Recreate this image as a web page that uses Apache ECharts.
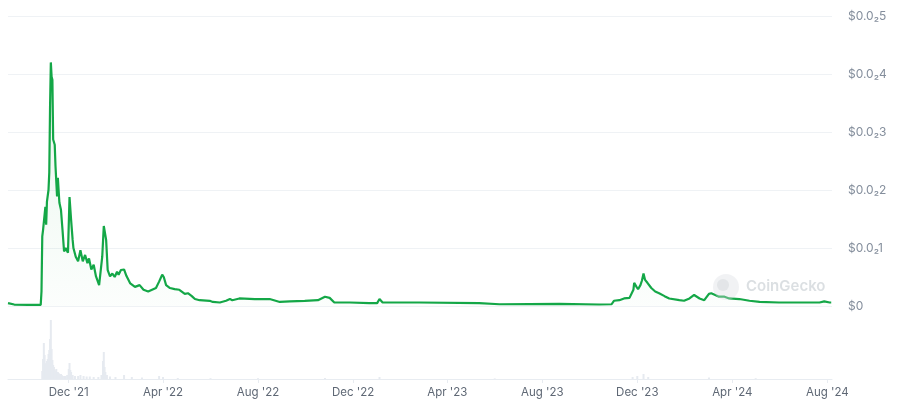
<!DOCTYPE html>
<html><head><meta charset="utf-8">
<script src="https://cdn.jsdelivr.net/npm/echarts@6/dist/echarts.min.js"></script>
<style>html,body{margin:0;padding:0;background:#fff}#c{width:900px;height:400px}</style>
</head><body><div id="c"></div>
<script>
// price in thousandths of a dollar ($0.0₂1 = 1)
const priceDates = [
'2021-09-14','2021-09-22','2021-10-10','2021-10-26','2021-10-27','2021-10-28','2021-10-29','2021-10-31',
'2021-11-01','2021-11-02','2021-11-03','2021-11-04','2021-11-05','2021-11-06','2021-11-07','2021-11-08',
'2021-11-09','2021-11-10','2021-11-11','2021-11-13','2021-11-14','2021-11-16','2021-11-17','2021-11-19',
'2021-11-21','2021-11-23','2021-11-25','2021-11-27','2021-11-30','2021-12-02','2021-12-04','2021-12-06',
'2021-12-07','2021-12-10','2021-12-13','2021-12-16','2021-12-19','2021-12-22','2021-12-25','2021-12-27',
'2021-12-30','2022-01-02','2022-01-05','2022-01-09','2022-01-11','2022-01-13','2022-01-15','2022-01-17',
'2022-01-18','2022-01-20','2022-01-23','2022-01-26','2022-01-29','2022-02-01','2022-02-03','2022-02-06',
'2022-02-10','2022-02-13','2022-02-18','2022-02-24','2022-03-02','2022-03-07','2022-03-13','2022-03-18',
'2022-03-23','2022-03-27','2022-03-31','2022-04-02','2022-04-05','2022-04-10','2022-04-16','2022-04-22',
'2022-04-29','2022-05-03','2022-05-08','2022-05-12','2022-05-18','2022-05-31','2022-06-04','2022-06-13',
'2022-06-21','2022-06-26','2022-06-29','2022-07-08','2022-07-28','2022-08-16','2022-08-29','2022-09-11',
'2022-09-30','2022-10-17','2022-10-26','2022-11-01','2022-11-07','2022-11-27','2022-12-22','2023-01-01',
'2023-01-04','2023-01-08','2023-01-17','2023-02-24','2023-05-12','2023-06-07','2023-08-23','2023-10-13',
'2023-10-29','2023-11-01','2023-11-08','2023-11-14','2023-11-21','2023-11-23','2023-11-26','2023-11-27',
'2023-11-30','2023-12-02','2023-12-05','2023-12-07','2023-12-09','2023-12-11','2023-12-14','2023-12-19',
'2023-12-24','2023-12-29','2024-01-05','2024-01-11','2024-01-24','2024-01-30','2024-02-06','2024-02-12',
'2024-02-19','2024-02-25','2024-03-02','2024-03-05','2024-03-10','2024-03-15','2024-03-22','2024-03-28',
'2024-04-10','2024-04-23','2024-05-06','2024-05-31','2024-06-26','2024-07-22','2024-07-28','2024-08-04',
'2024-08-06'
];
const priceMilli = [
0.05,0.025,0.02,0.02,0.25,1.20,1.31,1.28,
1.71,1.40,1.80,1.78,2.00,2.30,3.44,4.20,
3.95,3.90,2.87,2.78,2.41,1.89,2.21,1.78,
1.66,1.31,0.94,1.00,0.92,1.88,1.49,1.14,
1.00,0.85,0.77,0.96,0.77,0.88,0.74,0.82,
0.63,0.71,0.51,0.36,0.33,0.85,1.38,1.37,
1.14,0.62,0.51,0.56,0.50,0.59,0.54,0.62,
0.63,0.52,0.39,0.33,0.36,0.28,0.25,0.28,
0.31,0.42,0.54,0.50,0.36,0.31,0.29,0.28,
0.21,0.22,0.17,0.12,0.10,0.09,0.07,0.06,
0.09,0.12,0.10,0.13,0.12,0.12,0.07,0.08,
0.09,0.10,0.16,0.14,0.06,0.06,0.05,0.05,
0.12,0.06,0.06,0.06,0.05,0.03,0.035,0.026,
0.03,0.09,0.10,0.13,0.14,0.16,0.28,0.40,
0.33,0.29,0.36,0.44,0.56,0.45,0.40,0.31,
0.25,0.22,0.17,0.13,0.10,0.09,0.13,0.19,
0.13,0.10,0.21,0.22,0.19,0.16,0.16,0.13,
0.12,0.09,0.07,0.06,0.06,0.06,0.08,0.06,
0.06
];
// trading volume (relative units)
const volDates = [
'2021-10-28','2021-10-29','2021-10-30','2021-10-31','2021-11-01','2021-11-02','2021-11-03','2021-11-04',
'2021-11-05','2021-11-06','2021-11-07','2021-11-08','2021-11-09','2021-11-10','2021-11-11','2021-11-12',
'2021-11-13','2021-11-14','2021-11-15','2021-11-16','2021-11-17','2021-11-18','2021-11-19','2021-11-20',
'2021-11-21','2021-11-22','2021-11-23','2021-11-25','2021-11-27','2021-11-29','2021-12-01','2021-12-02',
'2021-12-03','2021-12-04','2021-12-06','2021-12-09','2021-12-13','2021-12-16','2021-12-20','2021-12-24',
'2021-12-28','2022-01-02','2022-01-08','2022-01-12','2022-01-14','2022-01-15','2022-01-16','2022-01-17',
'2022-01-19','2022-01-23','2022-01-30','2022-02-10','2022-02-20','2022-03-05','2022-03-27','2022-04-01',
'2022-04-20','2022-06-01','2022-08-01','2022-10-26','2023-01-04','2023-06-01','2023-11-25','2023-12-01',
'2023-12-09','2023-12-15','2024-03-02','2024-05-01'
];
const volValues = [
8,20,36,24,15,16,18,20,
25,29,40,59,30,19,14,12,
9,8,10,7,7,6,5,4,
5,4,3,3,3,4,10,16,
9,7,4,3,3,4,3,2.5,
2.5,2,2,4,18,27,12,7,
4,2.5,2,4,2,1.5,3,2,
1,0.8,0.8,1,2,0.6,2,3,
5,2,1.5,0.8
];
const xTickDates = ['2021-12-01','2022-04-01','2022-08-01','2022-12-01','2023-04-01','2023-08-01','2023-12-01','2024-04-01','2024-08-01'];
const xTickLabels = ["Dec '21","Apr '22","Aug '22","Dec '22","Apr '23","Aug '23","Dec '23","Apr '24","Aug '24"];
const yTickLabels = ['$0','$0.0₂1','$0.0₂2','$0.0₂3','$0.0₂4','$0.0₂5'];
const xRange = ['2021-09-14','2024-08-07'];

const P = s => +echarts.time.parse(s);
const tickVals = xTickDates.map(P);
const chart = echarts.init(document.getElementById('c'), null, {renderer:'canvas'});
const font = 'Inter, Roboto, "Noto Sans", sans-serif';
chart.setOption({
  animation:false,
  backgroundColor:'#ffffff',
  grid:[{left:8,right:68,top:16,height:290},{left:8,right:68,top:318,height:61}],
  xAxis:[
    {type:'value',gridIndex:0,min:P(xRange[0]),max:P(xRange[1]),show:false,splitLine:{show:false}},
    {type:'value',gridIndex:1,min:P(xRange[0]),max:P(xRange[1]),
      axisLine:{show:true,lineStyle:{color:'#e8ecf1',width:1}},
      axisTick:{show:true,customValues:tickVals,length:4,lineStyle:{color:'#e8ecf1'}},
      splitLine:{show:false},
      axisLabel:{customValues:tickVals,margin:8,color:'#5f6875',fontSize:11.5,fontFamily:font,
        formatter:function(v){const i=tickVals.indexOf(v);return i>=0?xTickLabels[i]:'';}}
    }
  ],
  yAxis:[
    {type:'value',gridIndex:0,position:'right',min:0,max:5,interval:1,
      axisLine:{show:false},axisTick:{show:false},
      splitLine:{show:true,lineStyle:{color:'#eff2f5',width:1}},
      axisLabel:{margin:16,color:'#848e9c',fontSize:12,fontFamily:font,padding:[0,0,6,0],
        formatter:function(v){return yTickLabels[Math.round(v)];}}
    },
    {type:'value',gridIndex:1,min:0,max:61,show:false,splitLine:{show:false}}
  ],
  series:[
    {type:'bar',xAxisIndex:1,yAxisIndex:1,barWidth:2,
      itemStyle:{color:'#e6eaf0'},
      data:volDates.map((d,i)=>[P(d),volValues[i]])},
    {type:'line',xAxisIndex:0,yAxisIndex:0,showSymbol:false,smooth:false,
      lineStyle:{color:'#14a747',width:2.2},
      areaStyle:{color:new echarts.graphic.LinearGradient(0,0,0,1,[
        {offset:0,color:'rgba(22,163,74,0.14)'},{offset:1,color:'rgba(22,163,74,0.02)'}])},
      data:priceDates.map((d,i)=>[P(d),priceMilli[i]])}
  ],
  graphic:[
    {type:'circle',shape:{cx:726,cy:287,r:13},style:{fill:'rgba(215,219,224,0.35)'},z:100},
    {type:'circle',shape:{cx:723,cy:285,r:6},style:{fill:'rgba(200,205,210,0.35)'},z:101},
    {type:'text',left:746,top:279,style:{text:'CoinGecko',fill:'rgba(190,196,203,0.55)',font:'600 15px '+font},z:100}
  ]
});
</script></body></html>
